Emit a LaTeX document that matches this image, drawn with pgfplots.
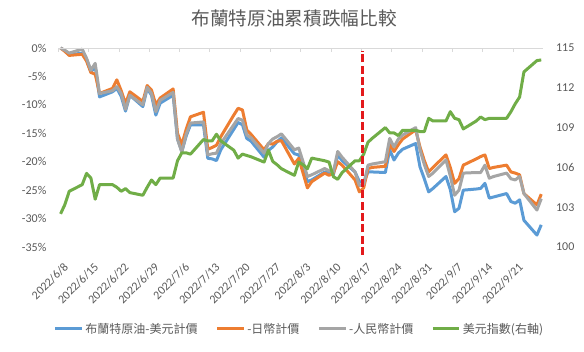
\documentclass[border=0pt]{standalone}
\usepackage{pgfplots}
\pgfplotsset{compat=1.18}
\usepackage{pgfplotstable}
\usepackage{fontspec}
\setmainfont{Carlito}
\newfontfamily\cjk{Noto Sans CJK TC}
\definecolor{cblue}{HTML}{5B9BD5}
\definecolor{corange}{HTML}{ED7D31}
\definecolor{cgray}{HTML}{A5A5A5}
\definecolor{cgreen}{HTML}{70AD47}
\definecolor{ctext}{HTML}{595959}
\definecolor{caxis}{HTML}{D9D9D9}
\definecolor{cred}{HTML}{E31A1C}

\pgfplotstableread{
d usd jpy cny dxy
0 0 0 0 102.5
1 -0.5 -0.6 -0.4 103.2
2 -1.2 -1.3 -0.9 104.2
5 -0.9 -1.1 -0.2 104.7
6 -2.0 -2.3 -1.8 105.55
7 -4.2 -4.3 -3.9 105.2
8 -3.3 -4.6 -2.7 103.6
9 -8.6 -8.0 -8.0 104.7
12 -7.7 -7.1 -7.5 104.7
13 -7.1 -5.6 -6.8 104.5
14 -8.5 -7.5 -8.0 104.2
15 -11.1 -9.8 -10.8 104.4
16 -8.3 -7.7 -8.3 104.1
19 -10.3 -9.4 -10.0 103.9
20 -7.1 -6.6 -6.9 104.5
21 -8.3 -7.4 -8.0 105.05
22 -11.8 -10.0 -11.2 104.7
23 -9.7 -8.8 -9.2 105.2
26 -8.3 -7.2 -7.8 105.2
27 -16.0 -15.0 -16.0 106.5
28 -18.2 -17.0 -18.3 107.1
29 -15.5 -14.3 -15.2 107.1
30 -13.5 -12.1 -13.2 107.0
33 -13.5 -11.3 -13.0 108.1
34 -19.4 -17.8 -18.8 108.0
35 -19.5 -17.5 -18.6 108.0
36 -19.8 -17.1 -18.5 108.5
37 -17.9 -15.6 -16.8 108.0
40 -14.3 -11.8 -13.5 107.3
41 -13.1 -10.6 -12.4 106.7
42 -13.5 -10.9 -12.7 107.0
43 -15.9 -14.4 -15.3 106.9
44 -16.4 -15.2 -15.8 106.8
47 -19.2 -17.9 -18.5 106.4
48 -18.0 -16.8 -16.8 107.3
49 -17.4 -16.9 -16.0 106.45
50 -16.5 -16.4 -15.6 106.2
51 -15.8 -16.3 -15.1 105.9
54 -18.6 -20.4 -17.9 105.4
55 -18.8 -19.4 -17.6 106.4
56 -21.0 -22.0 -20.0 106.2
57 -23.5 -24.6 -22.6 105.9
58 -23.2 -23.5 -22.3 106.7
61 -21.8 -22.0 -21.2 106.5
62 -22.0 -22.4 -21.6 106.4
63 -22.3 -22.0 -21.8 105.3
64 -18.8 -20.0 -18.2 105.1
65 -19.8 -20.6 -19.2 105.6
68 -21.8 -23.2 -21.8 106.5
69 -23.5 -25.3 -24.2 106.5
70 -23.6 -24.6 -24.0 107.0
71 -21.8 -21.2 -20.6 107.9
72 -21.8 -21.0 -20.4 108.2
75 -21.9 -20.8 -20.0 109.0
76 -17.9 -16.9 -15.9 108.6
77 -19.7 -18.2 -17.4 108.6
78 -18.5 -17.0 -16.0 108.4
79 -17.8 -16.0 -15.3 108.8
82 -16.8 -14.4 -14.0 108.8
83 -20.9 -17.4 -17.9 108.7
84 -23.0 -19.8 -20.5 108.7
85 -25.3 -21.8 -22.6 109.7
86 -24.7 -21.0 -22.0 109.5
89 -22.6 -18.8 -19.7 109.5
90 -24.9 -21.0 -22.5 110.2
91 -28.8 -23.8 -25.9 109.7
92 -28.2 -23.0 -25.0 109.6
93 -25.0 -20.6 -22.0 108.9
96 -24.8 -19.5 -21.9 109.5
97 -24.7 -19.1 -21.9 109.8
98 -23.8 -18.8 -20.6 109.6
99 -26.4 -21.2 -22.9 109.7
100 -26.2 -21.0 -22.6 109.7
103 -25.6 -20.6 -22.0 109.7
104 -27.0 -21.8 -23.0 110.2
105 -27.3 -22.0 -23.2 110.8
106 -26.7 -22.3 -22.6 111.3
107 -30.3 -25.6 -25.6 113.2
110 -32.9 -27.6 -28.5 114.05
111 -31.1 -25.7 -26.5 114.1
}\brent

\begin{document}
\begin{tikzpicture}
\useasboundingbox (-43.8pt,-78pt) rectangle (394.2pt,185.25pt);
\begin{axis}[
  at={(0pt,0pt)}, anchor=south west,
  scale only axis, width=363.75pt, height=149.25pt,
  xmin=-0.5, xmax=111.5, ymin=-35, ymax=0,
  axis x line*=bottom, axis y line*=left,
  x axis line style={draw=none}, y axis line style={draw=none},
  major tick length=0pt,
  xtick={0,7,...,105},
  xticklabels={2022/6/8,2022/6/15,2022/6/22,2022/6/29,2022/7/6,2022/7/13,2022/7/20,2022/7/27,2022/8/3,2022/8/10,2022/8/17,2022/8/24,2022/8/31,2022/9/7,2022/9/14,2022/9/21},
  xticklabel style={font=\fontsize{9pt}{11pt}\selectfont, text=ctext, inner sep=0pt, xshift=1.8pt, yshift=-11pt, rotate=45, anchor=north east},
  ytick={-35,-30,...,0},
  yticklabels={-35\%,-30\%,-25\%,-20\%,-15\%,-10\%,-5\%,0\%},
  yticklabel style={font=\fontsize{9pt}{11pt}\selectfont, text=ctext, xshift=-5.5pt},
  clip=false,
]
\addplot[cblue, line width=2.25pt, line join=round] table[x=d, y=usd]{\brent};
\addplot[corange, line width=2.25pt, line join=round] table[x=d, y=jpy]{\brent};
\addplot[cgray, line width=2.25pt, line join=round] table[x=d, y=cny]{\brent};
\end{axis}
\begin{axis}[
  at={(0pt,0pt)}, anchor=south west,
  scale only axis, width=363.75pt, height=149.25pt,
  xmin=-0.5, xmax=111.5, ymin=100, ymax=115,
  axis x line*=top, axis y line*=right,
  x axis line style={draw=caxis, line width=0.75pt},
  y axis line style={draw=none},
  xtick={-0.5,6.5,...,104.5}, xticklabels={},
  xtick style={draw=caxis, line width=0.75pt},
  tick align=inside, major tick length=3pt,
  ytick={100,103,...,115},
  yticklabels={100,103,106,109,112,115},
  ytick style={draw=none},
  yticklabel style={font=\fontsize{9pt}{11pt}\selectfont, text=ctext, xshift=6pt},
  clip=false,
  legend columns=4,
  legend style={at={(0.497,-0.412)}, anchor=center, draw=none, fill=none,
    font=\fontsize{9pt}{11pt}\selectfont, text=ctext,
    /tikz/every even column/.append style={column sep=12pt},
    nodes={inner sep=1.5pt}},
  legend image code/.code={\draw[#1] (0pt,0pt) -- (20pt,0pt);},
]
\addlegendimage{cblue, line width=2.25pt}
\addlegendentry{\cjk 布蘭特原油-美元計價}
\addlegendimage{corange, line width=2.25pt}
\addlegendentry{\cjk -日幣計價}
\addlegendimage{cgray, line width=2.25pt}
\addlegendentry{\cjk -人民幣計價}
\addplot[cgreen, line width=2.25pt, line join=round] table[x=d, y=dxy]{\brent};
\addlegendentry{\cjk 美元指數(右軸)}
\addplot[cred, line width=2.25pt, dash pattern=on 6pt off 2.5pt, forget plot] coordinates {(69.8,99.4) (69.8,114.8)};
\end{axis}
\node[font=\cjk\fontsize{14pt}{16pt}\selectfont, text=ctext] at (176.7pt,171.75pt) {布蘭特原油累積跌幅比較};
\end{tikzpicture}
\end{document}
